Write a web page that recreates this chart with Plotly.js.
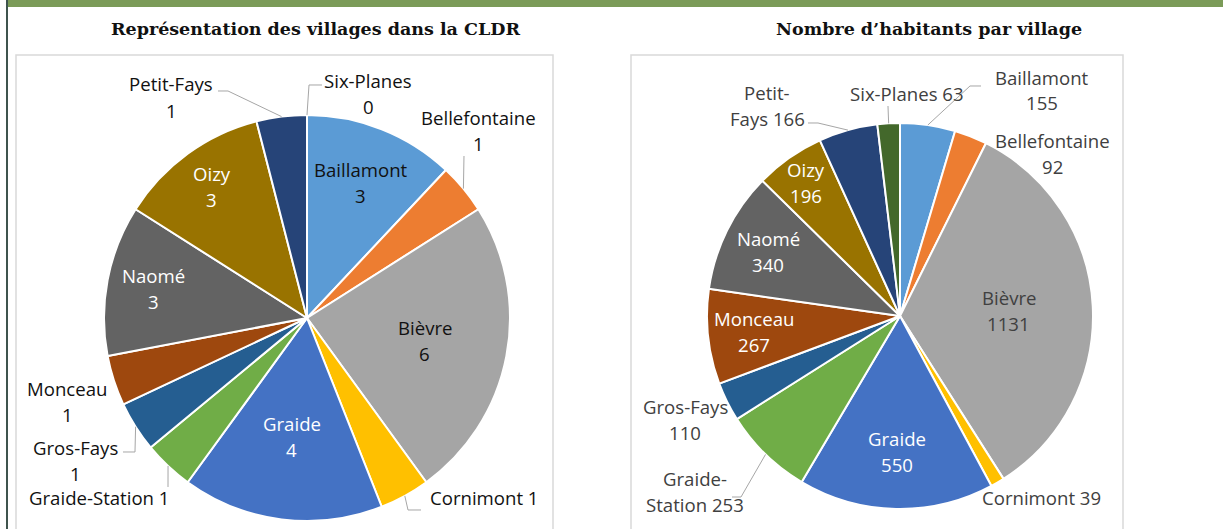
<!DOCTYPE html>
<html><head><meta charset="utf-8">
<script src="https://cdn.plot.ly/plotly-3.0.1.min.js"></script>
<style>html,body{margin:0;padding:0;background:#fff;overflow:hidden}#chart{width:1223px;height:529px}</style>
</head><body><div id="chart"></div>
<script>
// ---------- data ----------
const villages = ['Baillamont','Bellefontaine','Bièvre','Cornimont','Graide','Graide-Station','Gros-Fays','Monceau','Naomé','Oizy','Petit-Fays','Six-Planes'];
const cldrMembers = [3,1,6,1,4,1,1,1,3,3,1,0];
const inhabitants = [155,92,1131,39,550,253,110,267,340,196,166,63];
const titleLeft = 'Représentation des villages dans la CLDR';
const titleRight = 'Nombre d’habitants par village';
const sliceColors = ['#5B9BD5','#ED7D31','#A5A5A5','#FFC000','#4472C4','#70AD47','#255E91','#9E480E','#636363','#997300','#264478','#43682B'];

// ---------- layout config ----------
const W = 1223, H = 529;
const pieGeom = {left:{cx:307, cy:318, r:203}, right:{cx:900, cy:316, r:193}};
const labelsLeft = {
  'Baillamont':    {mode:'in', rf:0.72, color:'#111111', wrap:'stack'},
  'Bièvre':        {mode:'in', rf:0.59, color:'#111111', wrap:'stack'},
  'Graide':        {mode:'in', rf:0.59, color:'#ffffff', wrap:'stack'},
  'Naomé':         {mode:'in', rf:0.77, color:'#ffffff', wrap:'stack'},
  'Oizy':          {mode:'in', rf:0.80, color:'#ffffff', wrap:'stack'},
  'Petit-Fays':    {mode:'out', pos:[171,97], wrap:'stack', lead:[[218,91],[228,91]]},
  'Six-Planes':    {mode:'out', pos:[368,93], wrap:'stack', lead:[[322,85],[309,85]]},
  'Bellefontaine': {mode:'out', pos:[478,130], wrap:'stack', lead:[[464,156]]},
  'Cornimont':     {mode:'out', pos:[484,497], wrap:'inline', lead:[[421,510],[408,510]]},
  'Graide-Station':{mode:'out', pos:[99,497], wrap:'inline', lead:[[168,487]]},
  'Gros-Fays':     {mode:'out', pos:[75,460], wrap:'stack', lead:[[123,452],[135,452]]},
  'Monceau':       {mode:'out', pos:[67,401], wrap:'stack'}
};
const labelsRight = {
  'Bièvre':        {mode:'in', rf:0.565, color:'#404040', wrap:'stack'},
  'Graide':        {mode:'in', rf:0.70, color:'#ffffff', wrap:'stack'},
  'Monceau':       {mode:'in', rf:0.76, color:'#ffffff', wrap:'stack'},
  'Naomé':         {mode:'in', rf:0.76, color:'#ffffff', wrap:'stack'},
  'Oizy':          {mode:'in', rf:0.845, color:'#ffffff', wrap:'stack'},
  'Baillamont':    {mode:'out', pos:[1042,90], wrap:'stack', lead:[[981,86],[970,86]]},
  'Bellefontaine': {mode:'out', pos:[1052,153], wrap:'stack'},
  'Six-Planes':    {mode:'out', pos:[907,93], wrap:'inline', lead:[[888,106]]},
  'Petit-Fays':    {mode:'out', pos:[767,105], wrap:'split', lead:[[808,123],[818,123]]},
  'Gros-Fays':     {mode:'out', pos:[685,419], wrap:'stack'},
  'Graide-Station':{mode:'out', pos:[695,491], wrap:'split', lead:[[732,497],[741,497]]},
  'Cornimont':     {mode:'out', pos:[1041,497], wrap:'inline'}
};
const outColorLeft = '#111111', outColorRight = '#404040';
const labelFont = 'Open Sans, Noto Sans, sans-serif';
const labelSize = 18.6;
const lineGap = 26;

// ---------- helpers ----------
const px = x => x / W, py = y => 1 - y / H;
function domainOf(g){ return {x:[px(g.cx-g.r), px(g.cx+g.r)], y:[py(g.cy+g.r), py(g.cy-g.r)]}; }
function midAngles(vals){
  const tot = vals.reduce((a,b)=>a+b,0); let c = 0;
  return vals.map(v => { const m = (c + v/2)/tot*360; c += v; return m; });
}
function pt(g, ang, f){ const a = ang*Math.PI/180; return [g.cx + g.r*f*Math.sin(a), g.cy - g.r*f*Math.cos(a)]; }
function fmt(name, v, wrap){
  if (wrap==='inline') return [name + ' ' + v];
  if (wrap==='split') { const k = name.indexOf('-'); return [name.slice(0,k+1), name.slice(k+1) + ' ' + v]; }
  return [name, String(v)];
}

const annotations = [], shapes = [];
function buildLabels(vals, cfg, g, outColor){
  const mids = midAngles(vals);
  villages.forEach((name, i) => {
    const c = cfg[name]; if (!c) return;
    const lines = fmt(name, vals[i], c.wrap);
    let p, color;
    if (c.mode==='in'){ p = pt(g, mids[i], c.rf); color = c.color; }
    else {
      p = c.pos; color = outColor;
      if (c.lead){
        const edge = pt(g, mids[i], 1.0);
        const all = c.lead.concat([edge]);
        const path = all.map((q,k)=> (k?'L':'M') + px(q[0]).toFixed(5) + ',' + py(q[1]).toFixed(5)).join(' ');
        shapes.push({type:'path', xref:'paper', yref:'paper', path:path, line:{color:'#a6a6a6', width:1}, layer:'above'});
      }
    }
    lines.forEach((ln, k) => {
      const yy = p[1] + (k - (lines.length-1)/2) * lineGap;
      annotations.push({xref:'paper', yref:'paper', x:px(p[0]), y:py(yy), xanchor:'center', yanchor:'middle',
        text:ln, showarrow:false, align:'center', font:{family:labelFont, size:labelSize, color:color}});
    });
  });
}
buildLabels(cldrMembers, labelsLeft, pieGeom.left, outColorLeft);
buildLabels(inhabitants, labelsRight, pieGeom.right, outColorRight);

// titles
const titleFont = {family:'DejaVu Serif, serif', size:17.5, color:'#111111'};
annotations.push({xref:'paper', yref:'paper', x:px(315), y:py(29), xanchor:'center', yanchor:'middle', showarrow:false,
  text:'<b>'+titleLeft+'</b>', font:titleFont});
annotations.push({xref:'paper', yref:'paper', x:px(929), y:py(29), xanchor:'center', yanchor:'middle', showarrow:false,
  text:'<b>'+titleRight+'</b>', font:titleFont});

// frame decorations
shapes.unshift(
  {type:'rect', xref:'paper', yref:'paper', x0:px(8), x1:1.01, y0:py(7), y1:1.01, fillcolor:'#7B9B58', line:{width:0}, layer:'below'},
  {type:'line', xref:'paper', yref:'paper', x0:px(7), x1:px(7), y0:-0.01, y1:1.01, line:{color:'#3F544D', width:2}, layer:'below'},
  {type:'rect', xref:'paper', yref:'paper', x0:px(16), x1:px(553), y0:-0.02, y1:py(55), line:{color:'#D9D9D9', width:1.5}, layer:'below'},
  {type:'rect', xref:'paper', yref:'paper', x0:px(631), x1:px(1123), y0:-0.02, y1:py(55), line:{color:'#D9D9D9', width:1.5}, layer:'below'}
);

const common = {type:'pie', labels:villages, sort:false, direction:'clockwise', rotation:0, textinfo:'none',
  hoverinfo:'label+value', marker:{colors:sliceColors, line:{color:'#ffffff', width:2}}, showlegend:false};
const data = [
  Object.assign({}, common, {values:cldrMembers, domain:domainOf(pieGeom.left), name:'CLDR'}),
  Object.assign({}, common, {values:inhabitants, domain:domainOf(pieGeom.right), name:'Habitants'})
];
const layout = {width:W, height:H, margin:{l:0,r:0,t:0,b:0}, paper_bgcolor:'#ffffff', plot_bgcolor:'#ffffff',
  showlegend:false, annotations:annotations, shapes:shapes};
Plotly.newPlot('chart', data, layout, {displayModeBar:false, staticPlot:true});
</script></body></html>
